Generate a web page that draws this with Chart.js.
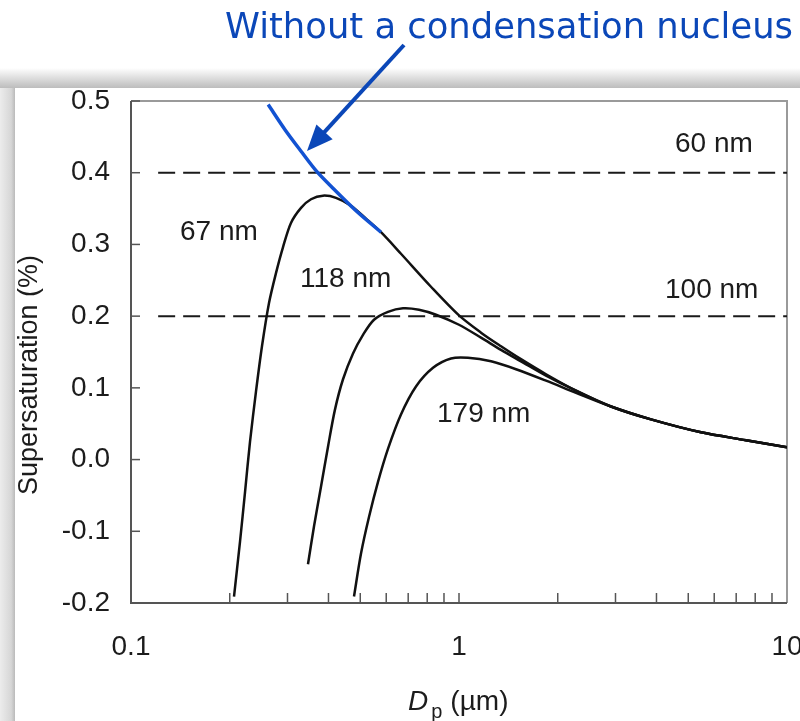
<!DOCTYPE html>
<html lang="en">
<head>
<meta charset="UTF-8">
<title>Köhler curves</title>
<script src="https://cdn.jsdelivr.net/npm/chart.js"></script>
<style>
  html, body { margin: 0; padding: 0; background: #fff; }
  #wrap { width: 800px; height: 721px; }
</style>
</head>
<body>
<div id="wrap"><canvas id="kohler" width="800" height="721"></canvas></div>
<script>
// axis ticks
const xTickValues = [0.1, 1, 10];
const xTickLabels = ['0.1', '1', '10'];
const xMinorTicks = [0.2, 0.3, 0.4, 0.5, 0.6, 0.7, 0.8, 0.9, 2, 3, 4, 5, 6, 7, 8, 9];
const yTickValues = [-0.2, -0.1, 0.0, 0.1, 0.2, 0.3, 0.4, 0.5];

// droplet diameter (um) / supersaturation (%)
const dpPure = [0.262, 0.2948, 0.3299, 0.3665, 0.4158, 0.4853, 0.5783];
const ssPure = [0.495, 0.460, 0.430, 0.403, 0.377, 0.347, 0.317];

const dp67 = [0.2061, 0.2150, 0.2227, 0.2306, 0.2405, 0.2508, 0.2634, 0.2767, 0.2906, 0.3074, 0.3299, 0.3538, 0.3849, 0.4217, 0.4685, 0.5205, 0.5783, 0.6654, 0.8214, 1.0, 1.167, 1.343, 1.545, 1.842, 2.274, 2.906, 3.849, 5.468, 7.499, 10];
const ss67 = [-0.191, -0.114, -0.045, 0.025, 0.095, 0.158, 0.218, 0.260, 0.296, 0.330, 0.351, 0.363, 0.368, 0.365, 0.354, 0.336, 0.317, 0.287, 0.241, 0.201, 0.177, 0.158, 0.140, 0.119, 0.096, 0.074, 0.056, 0.038, 0.027, 0.017];

const dp118 = [0.3464, 0.3614, 0.3795, 0.3987, 0.4188, 0.4430, 0.4752, 0.5097, 0.5507, 0.6074, 0.6749, 0.7552, 0.8510, 1.0, 1.167, 1.343, 1.545, 1.842, 2.274, 2.906, 3.849, 5.468, 7.499, 10];
const ss118 = [-0.146, -0.093, -0.038, 0.018, 0.070, 0.112, 0.148, 0.174, 0.195, 0.206, 0.211, 0.209, 0.202, 0.188, 0.170, 0.153, 0.137, 0.117, 0.096, 0.074, 0.056, 0.038, 0.027, 0.017];

const dp179 = [0.4785, 0.5026, 0.5316, 0.5663, 0.6074, 0.6654, 0.7394, 0.8333, 0.9454, 1.065, 1.252, 1.492, 1.842, 2.274, 2.906, 3.849, 5.468, 7.499, 10];
const ss179 = [-0.191, -0.131, -0.080, -0.031, 0.015, 0.063, 0.102, 0.128, 0.141, 0.142, 0.137, 0.126, 0.110, 0.093, 0.074, 0.056, 0.038, 0.027, 0.017];

// critical supersaturation of the 60 nm and 100 nm particles
const critLevels = [0.4, 0.2];
const critLabels = ['60 nm', '100 nm'];
const critStart = 0.121;

const FONT = "'Liberation Sans', Arial, Helvetica, sans-serif";
const BLUE = '#0b47b8';

function pts(xs, ys) {
    return xs.map((x, i) => ({ x: x, y: ys[i] }));
}

function curve(label, xs, ys, color, width) {
    return { label: label, data: pts(xs, ys), borderColor: color, borderWidth: width, tension: 0.3 };
}

const datasets = [
    curve('Without a condensation nucleus', dpPure, ssPure, '#1252d2', 3.5),
    curve('67 nm', dp67, ss67, '#111', 2.5),
    curve('118 nm', dp118, ss118, '#111', 2.5),
    curve('179 nm', dp179, ss179, '#111', 2.5)
];
critLevels.forEach((lvl, i) => {
    datasets.push({
        label: critLabels[i],
        data: [{ x: critStart, y: lvl }, { x: 10, y: lvl }],
        borderColor: '#1a1a1a',
        borderWidth: 2,
        borderDash: [17, 8]
    });
});

const figure = {
    id: 'figure',
    beforeDraw(chart) {
        const c = chart.ctx;
        c.save();
        c.fillStyle = '#fff';
        c.fillRect(0, 0, chart.width, chart.height);
        // drop shadow of the pasted figure
        let g = c.createLinearGradient(0, 68, 0, 88);
        g.addColorStop(0, 'rgba(160,160,160,0)');
        g.addColorStop(1, 'rgba(160,160,160,0.7)');
        c.fillStyle = g;
        c.fillRect(0, 68, chart.width, 20);
        g = c.createLinearGradient(0, 0, 15, 0);
        g.addColorStop(0, '#ececec');
        g.addColorStop(0.75, '#d6d6d6');
        g.addColorStop(1, '#bababa');
        c.fillStyle = g;
        c.fillRect(0, 88, 15, chart.height - 88);
        c.restore();
    },
    beforeDatasetsDraw(chart) {
        const c = chart.ctx, a = chart.chartArea;
        const x = chart.scales.x, y = chart.scales.y;
        c.save();
        c.lineWidth = 2;
        c.strokeStyle = '#9a9a9a';
        c.beginPath();
        c.moveTo(a.left, a.top); c.lineTo(a.right, a.top); c.lineTo(a.right, a.bottom);
        c.stroke();
        c.strokeStyle = '#555';
        c.beginPath();
        c.moveTo(a.left, a.top); c.lineTo(a.left, a.bottom); c.lineTo(a.right, a.bottom);
        c.stroke();
        c.lineWidth = 1.5;
        yTickValues.forEach(v => {
            const py = y.getPixelForValue(v);
            c.beginPath(); c.moveTo(a.left, py); c.lineTo(a.left + 9, py); c.stroke();
        });
        xMinorTicks.concat([1]).forEach(v => {
            const px = x.getPixelForValue(v);
            c.beginPath(); c.moveTo(px, a.bottom); c.lineTo(px, a.bottom - 10); c.stroke();
        });
        c.restore();
    },
    afterDraw(chart) {
        const c = chart.ctx, a = chart.chartArea;
        const x = chart.scales.x;
        c.save();
        c.fillStyle = '#1c1c1c';
        c.font = '28px ' + FONT;
        c.textAlign = 'center';
        c.textBaseline = 'middle';
        xTickValues.forEach((v, i) => c.fillText(xTickLabels[i], x.getPixelForValue(v), a.bottom + 44));

        // axis titles
        c.textAlign = 'left';
        c.textBaseline = 'alphabetic';
        c.save();
        c.font = '27px ' + FONT;
        c.translate(37, 495);
        c.rotate(-Math.PI / 2);
        c.fillText('Supersaturation (%)', 0, 0);
        c.restore();

        let tx = 408;
        c.font = 'italic 28px ' + FONT;
        c.fillText('D', tx, 710);
        tx += c.measureText('D').width + 3;
        c.font = '20px ' + FONT;
        c.fillText('p', tx, 718);
        tx += c.measureText('p').width + 8;
        c.font = '28px ' + FONT;
        c.fillText('(\u00b5m)', tx, 710);

        // curve labels
        c.font = '28px ' + FONT;
        c.fillText(critLabels[0], 675, 152);
        c.fillText(critLabels[1], 665, 298);
        c.fillText('67 nm', 180, 240);
        c.fillText('118 nm', 300, 287);
        c.fillText('179 nm', 437, 422);

        // annotation
        c.fillStyle = BLUE;
        c.font = "36px 'DejaVu Sans', Verdana, sans-serif";
        c.fillText('Without a condensation nucleus', 225, 38, 568);

        const sx = 404, sy = 45, ex = 307, ey = 151;
        const len = Math.hypot(ex - sx, ey - sy);
        const ux = (ex - sx) / len, uy = (ey - sy) / len;
        const hl = 26, hw = 11;
        const bx = ex - ux * hl, by = ey - uy * hl;
        c.strokeStyle = BLUE;
        c.lineWidth = 4;
        c.beginPath(); c.moveTo(sx, sy); c.lineTo(bx + ux * 2, by + uy * 2); c.stroke();
        c.beginPath();
        c.moveTo(ex, ey);
        c.lineTo(bx - uy * hw, by + ux * hw);
        c.lineTo(bx + uy * hw, by - ux * hw);
        c.closePath();
        c.fill();
        c.restore();
    }
};

const ctx = document.getElementById('kohler').getContext('2d');
const kohlerChart = new Chart(ctx, {
    type: 'line',
    data: { datasets: datasets },
    options: {
        responsive: false,
        animation: false,
        layout: { padding: { left: 0, top: 101, right: 13, bottom: 118 } },
        plugins: { legend: { display: false }, tooltip: { enabled: false } },
        elements: {
            point: { radius: 0 },
            line: { fill: false }
        },
        scales: {
            x: { type: 'logarithmic', min: 0.1, max: 10, display: false },
            y: {
                min: -0.2,
                max: 0.5,
                grid: { display: false, drawTicks: false },
                border: { display: false },
                ticks: {
                    stepSize: 0.1,
                    padding: 21,
                    color: '#1c1c1c',
                    font: { family: FONT, size: 28 },
                    callback: v => (Math.abs(v) < 1e-9 ? 0 : v).toFixed(1)
                },
                afterFit(scale) { scale.width = 131; }
            }
        }
    },
    plugins: [figure]
});
</script>
</body>
</html>
